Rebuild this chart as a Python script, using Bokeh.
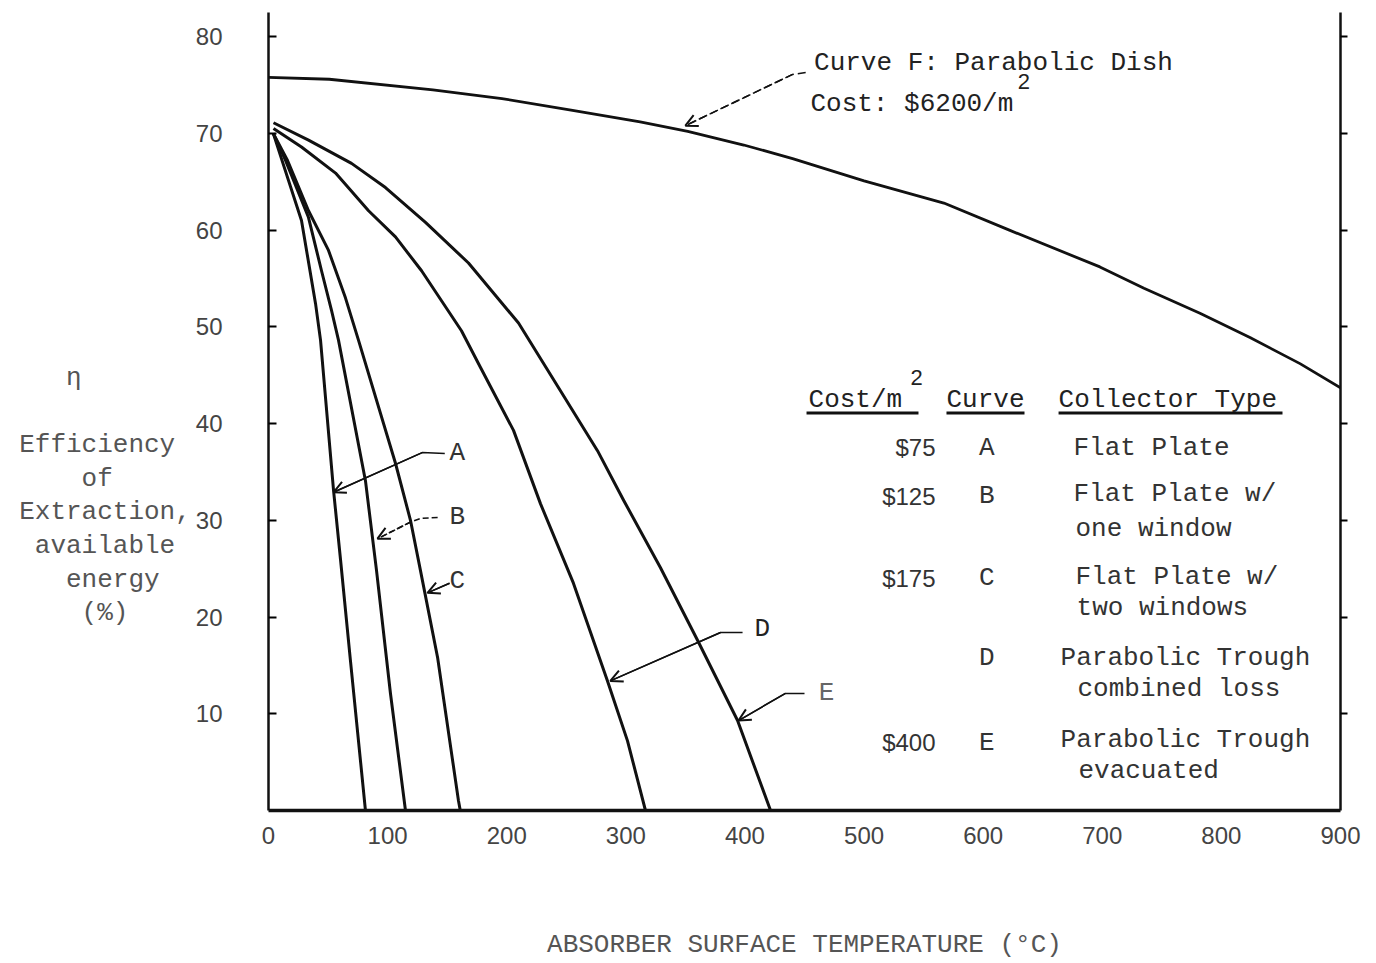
from bokeh.plotting import figure
from bokeh.models import Range1d, LinearAxis, Label, Arrow, OpenHead, FixedTicker, CustomJSTickFormatter
from bokeh.embed import file_html
from bokeh.resources import INLINE

# ---- data ----
a_x = [4, 27.7, 39.5, 43.7, 54.6, 60.5, 68.8, 81.4]
a_y = [70, 61, 52.4, 48.6, 33.1, 25.9, 15.5, 0]
b_x = [4, 14.3, 33.6, 44.5, 52.9, 58.8, 81.4, 90.7, 102.4, 115]
b_y = [70, 67.2, 61.3, 55.8, 51.7, 48.6, 34.1, 24.8, 12.1, 0]
c_x = [4, 16, 33.6, 50.4, 64.6, 75.6, 106.6, 119.2, 127.6, 142, 159.5, 161]
c_y = [70, 67.2, 62.0, 57.9, 53.0, 48.6, 35.9, 30, 24.8, 15.8, 1, 0]
d_x = [4.2, 27.7, 56.3, 84, 106.6, 128.5, 162, 178, 205.7, 228.4, 256, 284.6, 301.4, 316.5]
d_y = [70.5, 68.6, 65.9, 62.0, 59.3, 55.8, 49.6, 45.8, 39.3, 31.7, 23.5, 13.4, 7.2, 0]
e_x = [4.2, 33.6, 69.7, 98.2, 131.8, 167.9, 209.9, 245.1, 276.2, 298, 329.1, 360.2, 393.8, 421.5]
e_y = [71.1, 69.3, 66.9, 64.4, 60.8, 56.6, 50.4, 43.4, 37.2, 32.1, 25.1, 17.6, 9.3, 0]
f_x = [0, 51, 138, 196, 254, 312, 352, 399, 440, 500, 567, 622, 698, 735, 782, 824, 866, 900]
f_y = [75.8, 75.6, 74.5, 73.6, 72.4, 71.2, 70.2, 68.8, 67.4, 65.1, 62.8, 60.0, 56.2, 54.0, 51.4, 48.9, 46.2, 43.7]

x_ticks = [0, 100, 200, 300, 400, 500, 600, 700, 800, 900]
y_ticks = [10, 20, 30, 40, 50, 60, 70, 80]

costs = ["$75", "$125", "$175", "", "$400"]
curves = ["A", "B", "C", "D", "E"]
types = [["Flat Plate"], ["Flat Plate w/", "one window"], ["Flat Plate w/", "two windows"],
         ["Parabolic Trough", "combined loss"], ["Parabolic Trough", "evacuated"]]
# y title lines and their starting column in the typewritten block
y_title_lines = ["\u03b7", "", "Efficiency", "of", "Extraction,", "available", "energy", "(%)"]
y_title_cols = [3, 0, 0, 4, 0, 1, 3, 4]
x_title = "ABSORBER SURFACE TEMPERATURE (\u00b0C)"

MONO = "Liberation Mono"
SANS = "Liberation Sans"
INK = "#111111"
GREY = "#444444"
NB = "\u00a0"

p = figure(width=1370, height=962, output_backend="svg", toolbar_location=None,
           x_range=Range1d(0, 900), y_range=Range1d(0, 82.5),
           min_border_left=268, min_border_right=30, min_border_top=12, min_border_bottom=152)
p.outline_line_color = None
p.xgrid.visible = False
p.ygrid.visible = False
p.background_fill_color = "white"
p.border_fill_color = "white"

# bottom axis
p.xaxis.ticker = FixedTicker(ticks=x_ticks)
p.xaxis.axis_line_width = 3.5
p.xaxis.axis_line_color = INK
p.xaxis.major_tick_in = 0
p.xaxis.major_tick_out = 0
p.xaxis.minor_tick_line_color = None
p.xaxis.major_label_text_font = SANS
p.xaxis.major_label_text_font_size = "24px"
p.xaxis.major_label_text_color = GREY
p.xaxis.major_label_standoff = 16
p.xaxis.axis_label = x_title
p.xaxis.axis_label_text_font = MONO
p.xaxis.axis_label_text_font_size = "26px"
p.xaxis.axis_label_text_font_style = "normal"
p.xaxis.axis_label_text_color = "#555555"
p.xaxis.axis_label_standoff = 83

# left axis, with the horizontal typewritten block as its label
width = max(len(s) for s in y_title_lines)
padded = []
for s, c in zip(y_title_lines, y_title_cols):
    if s:
        padded.append(NB * c + s + NB * (width - c - len(s)))
    else:
        padded.append(NB)
y_block = [NB] * 5 + padded

p.yaxis.ticker = FixedTicker(ticks=y_ticks)
p.yaxis.axis_line_width = 2.5
p.yaxis.axis_line_color = INK
p.yaxis.major_tick_in = 8
p.yaxis.major_tick_out = 0
p.yaxis.major_tick_line_width = 2
p.yaxis.minor_tick_line_color = None
p.yaxis.major_label_text_font = SANS
p.yaxis.major_label_text_font_size = "24px"
p.yaxis.major_label_text_color = GREY
p.yaxis.major_label_standoff = 46
p.yaxis.axis_label = "\n".join(y_block)
p.yaxis.axis_label_text_font = MONO
p.yaxis.axis_label_text_font_size = "26px"
p.yaxis.axis_label_text_font_style = "normal"
p.yaxis.axis_label_text_color = "#555555"
p.yaxis.axis_label_standoff = 2
p.yaxis.axis_label_text_line_height = 1.12
yax = p.yaxis[0]
if "axis_label_orientation" in yax.properties():
    yax.axis_label_orientation = "horizontal"
if "axis_label_align" in yax.properties():
    yax.axis_label_align = "center"

# right axis (ticks only)
right = LinearAxis(ticker=FixedTicker(ticks=y_ticks),
                   formatter=CustomJSTickFormatter(code="return ''"))
right.axis_line_width = 2.5
right.axis_line_color = INK
right.major_tick_in = 0
right.major_tick_out = 7
right.major_tick_line_width = 2
right.minor_tick_line_color = None
right.major_label_standoff = 0
p.add_layout(right, "right")

# curves
for xs, ys in [(a_x, a_y), (b_x, b_y), (c_x, c_y), (d_x, d_y), (e_x, e_y)]:
    p.line(xs, ys, line_color=INK, line_width=3, line_join="round")
p.line(f_x, f_y, line_color=INK, line_width=2.8, line_join="round")

# pointer lines and arrowheads
def pointer(pts, dash="solid"):
    xs = [q[0] for q in pts]
    ys = [q[1] for q in pts]
    p.line(xs, ys, line_color=INK, line_width=1.5, line_dash=dash)
    p.add_layout(Arrow(end=OpenHead(size=12, line_width=2, line_color=INK),
                       x_start=xs[-2], y_start=ys[-2], x_end=xs[-1], y_end=ys[-1],
                       line_width=1.5, line_color=INK, line_dash=dash))

pointer([(148, 36.9), (129, 37.0), (54.6, 32.9)])
pointer([(142, 30.3), (127.6, 30.2), (119, 29.8), (91.5, 28.1)], dash="6 3")
pointer([(152, 23.5), (133.5, 22.5)])
pointer([(398, 18.4), (379.5, 18.4), (287, 13.4)])
pointer([(450, 12.1), (434, 12.1), (394.6, 9.3)])
pointer([(451, 76.3), (440, 76.1), (350, 70.8)], dash="8 4")

def lab(x, y, text, size="26px", align="left", color="#222222", font=MONO):
    p.add_layout(Label(x=x, y=y, text=text, text_font=font, text_font_size=size,
                       text_align=align, text_baseline="middle", text_color=color))

# curve letters
lab(152, 37.0, "A", color="#333333")
lab(152, 30.3, "B", color="#333333")
lab(152, 23.7, "C", color="#333333")
lab(408, 18.8, "D", color="#222222")
lab(462, 12.1, "E", color="#666666")

# Curve F annotation
lab(458, 77.3, "Curve F: Parabolic Dish")
lab(455, 73.0, "Cost: $6200/m")
lab(629, 75.4, "2", size="22px", font=SANS)

# table
lab(453.4, 42.4, "Cost/m")
lab(539, 44.8, "2", size="22px", font=SANS)
lab(569.2, 42.4, "Curve")
lab(663.3, 42.4, "Collector Type")
for x0, x1 in [(451.7, 545.7), (569.2, 634.7), (663.3, 851.3)]:
    p.line([x0, x1], [41.1, 41.1], line_color=INK, line_width=3)

row_y = [37.5, 32.5, 24.0, 15.8, 7.0]
type_x = [[675.8], [675.8, 677.5], [677.5, 678.4], [665, 679.2], [665, 680]]
type_y = [[37.5], [32.7, 29.1], [24.1, 20.9], [15.8, 12.6], [7.3, 4.1]]
for i in range(5):
    if costs[i]:
        lab(560, row_y[i], costs[i], size="24px", font=SANS, align="right", color="#333333")
    lab(603, row_y[i], curves[i], align="center", color="#333333")
    for t, tx, ty in zip(types[i], type_x[i], type_y[i]):
        lab(tx, ty, t, color="#333333")

open("out.html", "w").write(file_html(p, INLINE))
